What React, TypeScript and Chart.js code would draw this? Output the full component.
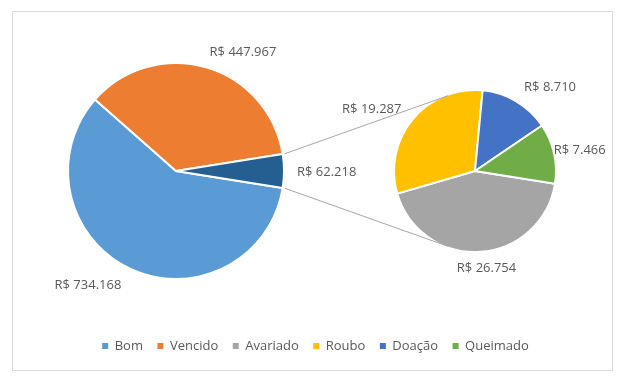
import React, { useEffect, useRef } from "react";
import { Chart, registerables } from "chart.js";

Chart.register(...registerables);

// ---------- data ----------
const MAIN_LABELS = ["Bom", "Vencido", "Outros"];
const MAIN_VALUES = [734168, 447967, 62218];

const SECOND_LABELS = ["Avariado", "Roubo", "Doação", "Queimado"];
const SECOND_VALUES = [26754, 19287, 8710, 7466];

const LEGEND_LABELS = ["Bom", "Vencido", "Avariado", "Roubo", "Doação", "Queimado"];

// ---------- styles ----------
const MAIN_COLORS = ["#5B9BD5", "#ED7D31", "#255E91"];
const SECOND_COLORS = ["#A5A5A5", "#FFC000", "#4472C4", "#70AD47"];
const LEGEND_COLORS = ["#5B9BD5", "#ED7D31", "#A5A5A5", "#FFC000", "#4472C4", "#70AD47"];

const W = 599;
const H = 358;
const FONT = "'Open Sans', 'Liberation Sans', sans-serif";
const TEXT = "#595959";

const MAIN_CENTER = { x: 163, y: 159 };
const MAIN_R = 108;
const SECOND_CENTER = { x: 462, y: 159 };
const SECOND_R = 81;

// label nudges (in px) from the generic outside-end placement
const MAIN_NUDGE = [[-24, 2], [25, 0], [4, 1]];
const SECOND_NUDGE = [[4, 0], [-11, 0], [16, 0], [-8.5, 0]];

const sum = (a: number[]) => a.reduce((s, v) => s + v, 0);
const OTHER_ANGLE = (360 * MAIN_VALUES[2]) / sum(MAIN_VALUES);
const ROTATION = 90 + OTHER_ANGLE / 2;

function fmt(v: number) {
  return "R$ " + String(Math.round(v)).replace(/\B(?=(\d{3})+(?!\d))/g, ".");
}

function labelPlugin(nudges: number[][]) {
  return {
    id: "sliceLabels",
    afterDatasetsDraw(chart: any) {
      const ctx = chart.ctx;
      const meta = chart.getDatasetMeta(0);
      const data = chart.data.datasets[0].data as number[];
      ctx.save();
      ctx.font = `13px ${FONT}`;
      ctx.fillStyle = TEXT;
      ctx.textAlign = "center";
      ctx.textBaseline = "middle";
      meta.data.forEach((arc: any, i: number) => {
        const { x, y, startAngle, endAngle, outerRadius } = arc.getProps(
          ["x", "y", "startAngle", "endAngle", "outerRadius"],
          true
        );
        const mid = (startAngle + endAngle) / 2;
        const text = fmt(data[i]);
        const w = ctx.measureText(text).width;
        const h = 14;
        const d = outerRadius + 9;
        const cx = x + Math.cos(mid) * (d + w / 2) + nudges[i][0];
        const cy = y + Math.sin(mid) * (d + h / 2) + nudges[i][1];
        ctx.fillText(text, cx, cy);
      });
      ctx.restore();
    },
  };
}

function connectorPlugin(getMain: () => any) {
  return {
    id: "connectors",
    afterDatasetsDraw(chart: any) {
      const main = getMain();
      if (!main) return;
      const mArc = main.getDatasetMeta(0).data[2];
      const sArc = chart.getDatasetMeta(0).data[0];
      if (!mArc || !sArc) return;
      const m = mArc.getProps(["x", "y", "startAngle", "endAngle", "outerRadius"], true);
      const s = sArc.getProps(["x", "y", "outerRadius"], true);
      const rs = s.outerRadius - 1;
      const ctx = chart.ctx;
      ctx.save();
      ctx.strokeStyle = "#A6A6A6";
      ctx.lineWidth = 1;
      [m.startAngle, m.endAngle].forEach((a: number) => {
        const px = m.x + Math.cos(a) * (m.outerRadius + 2);
        const py = m.y + Math.sin(a) * (m.outerRadius + 2);
        const dx = px - s.x;
        const dy = py - s.y;
        const dist = Math.hypot(dx, dy);
        const base = Math.atan2(dy, dx);
        const delta = Math.acos(rs / dist);
        const t1 = { x: s.x + rs * Math.cos(base + delta), y: s.y + rs * Math.sin(base + delta) };
        const t2 = { x: s.x + rs * Math.cos(base - delta), y: s.y + rs * Math.sin(base - delta) };
        const upper = py < m.y;
        const t = upper ? (t1.y < t2.y ? t1 : t2) : (t1.y > t2.y ? t1 : t2);
        ctx.beginPath();
        ctx.moveTo(px, py);
        ctx.lineTo(t.x, t.y);
        ctx.stroke();
      });
      ctx.restore();
    },
  };
}

export default function App() {
  const legendRef = useRef<HTMLCanvasElement>(null);
  const mainRef = useRef<HTMLCanvasElement>(null);
  const secRef = useRef<HTMLCanvasElement>(null);

  useEffect(() => {
    const legend = new Chart(legendRef.current as HTMLCanvasElement, {
      type: "pie",
      data: { labels: LEGEND_LABELS, datasets: [] },
      options: {
        responsive: false,
        animation: false,
        layout: { padding: { left: 6, right: 0, top: 0, bottom: 7.5 } },
        plugins: {
          tooltip: { enabled: false },
          legend: {
            display: true,
            position: "bottom",
            onClick: () => {},
            labels: {
              boxWidth: 6,
              boxHeight: 6,
              padding: 14.5,
              color: TEXT,
              font: { family: FONT, size: 13 },
              generateLabels: () =>
                LEGEND_LABELS.map((t, i) => ({
                  text: t,
                  fillStyle: LEGEND_COLORS[i],
                  strokeStyle: LEGEND_COLORS[i],
                  lineWidth: 0,
                  hidden: false,
                  index: i,
                  fontColor: TEXT,
                })),
            },
          },
        },
      } as any,
    });

    const main = new Chart(mainRef.current as HTMLCanvasElement, {
      type: "pie",
      data: {
        labels: MAIN_LABELS,
        datasets: [
          {
            data: MAIN_VALUES,
            backgroundColor: MAIN_COLORS,
            borderColor: "#FFFFFF",
            borderWidth: 2,
          },
        ],
      },
      options: {
        responsive: false,
        animation: false,
        rotation: ROTATION,
        radius: MAIN_R,
        layout: {
          padding: { left: 0, right: W - 2 * MAIN_CENTER.x, top: 0, bottom: H - 2 * MAIN_CENTER.y },
        },
        plugins: { legend: { display: false }, tooltip: { enabled: false } },
      } as any,
      plugins: [labelPlugin(MAIN_NUDGE)],
    });

    const sec = new Chart(secRef.current as HTMLCanvasElement, {
      type: "pie",
      data: {
        labels: SECOND_LABELS,
        datasets: [
          {
            data: SECOND_VALUES,
            backgroundColor: SECOND_COLORS,
            borderColor: "#FFFFFF",
            borderWidth: 2,
          },
        ],
      },
      options: {
        responsive: false,
        animation: false,
        rotation: ROTATION,
        radius: SECOND_R,
        layout: {
          padding: { left: 2 * SECOND_CENTER.x - W, right: 0, top: 0, bottom: H - 2 * SECOND_CENTER.y },
        },
        plugins: { legend: { display: false }, tooltip: { enabled: false } },
      } as any,
      plugins: [labelPlugin(SECOND_NUDGE), connectorPlugin(() => main)],
    });

    return () => {
      legend.destroy();
      main.destroy();
      sec.destroy();
    };
  }, []);

  const canvasStyle: React.CSSProperties = {
    position: "absolute",
    left: 0,
    top: 0,
    width: W,
    height: H,
  };

  return (
    <div
      style={{
        position: "absolute",
        left: 12,
        top: 11,
        width: 601,
        height: 360,
        boxSizing: "border-box",
        border: "1px solid #D9D9D9",
        background: "#FFFFFF",
      }}
    >
      <canvas ref={legendRef} width={W} height={H} style={canvasStyle} />
      <canvas ref={mainRef} width={W} height={H} style={canvasStyle} />
      <canvas ref={secRef} width={W} height={H} style={canvasStyle} />
    </div>
  );
}
